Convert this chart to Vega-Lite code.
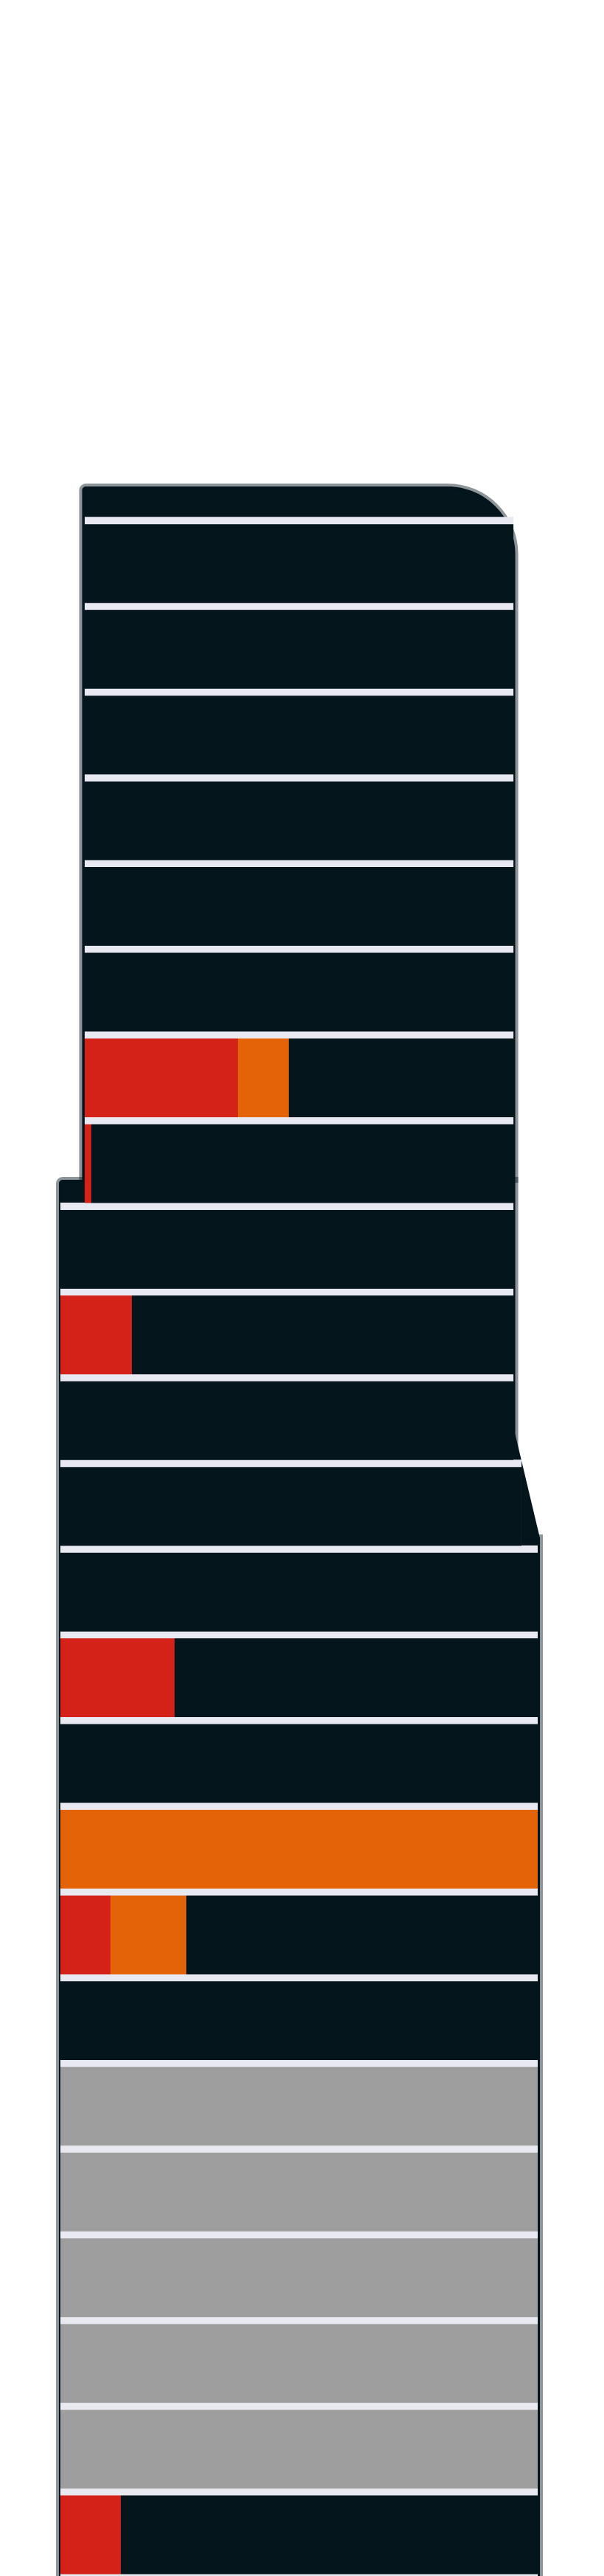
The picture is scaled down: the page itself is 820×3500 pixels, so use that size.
{
  "$schema": "https://vega.github.io/schema/vega-lite/v6.json",
  "width": 648,
  "height": 3500,
  "autosize": {"type": "none"},
  "padding": {"left": 82, "right": 90, "top": 0, "bottom": 0},
  "background": "#ffffff",
  "config": {"view": {"stroke": null}},
  "datasets": {
    "outline": [
      {"piece": "upper", "x0": 4.55, "x1": 95.3, "y0": 0.1, "y1": 8.19},
      {"piece": "lower", "x0": -0.31, "x1": 95.3, "y0": 8.19, "y1": 24.6},
      {"piece": "right", "x0": 95.0, "x1": 100.46, "y0": 12.36, "y1": 24.6}
    ],
    "wedge": [
      {"v": 11.16, "a": 95.0, "b": 95.3},
      {"v": 12.37, "a": 95.0, "b": 100.46}
    ],
    "segments": [
      {"row": 1, "group": "C", "start": 5.09, "end": 94.91},
      {"row": 2, "group": "C", "start": 5.09, "end": 94.91},
      {"row": 3, "group": "C", "start": 5.09, "end": 94.91},
      {"row": 4, "group": "C", "start": 5.09, "end": 94.91},
      {"row": 5, "group": "C", "start": 5.09, "end": 94.91},
      {"row": 6, "group": "C", "start": 5.09, "end": 94.91},
      {"row": 7, "group": "A", "start": 5.09, "end": 37.19},
      {"row": 7, "group": "B", "start": 37.19, "end": 47.84},
      {"row": 7, "group": "C", "start": 47.84, "end": 94.91},
      {"row": 8, "group": "A", "start": 5.09, "end": 6.48},
      {"row": 8, "group": "C", "start": 6.48, "end": 94.91},
      {"row": 9, "group": "C", "start": 0, "end": 94.91},
      {"row": 10, "group": "A", "start": 0, "end": 14.97},
      {"row": 10, "group": "C", "start": 14.97, "end": 94.91},
      {"row": 11, "group": "C", "start": 0, "end": 94.91},
      {"row": 12, "group": "C", "start": 0, "end": 96.6},
      {"row": 13, "group": "C", "start": 0, "end": 100},
      {"row": 14, "group": "A", "start": 0, "end": 23.92},
      {"row": 14, "group": "C", "start": 23.92, "end": 100},
      {"row": 15, "group": "C", "start": 0, "end": 100},
      {"row": 16, "group": "B", "start": 0, "end": 100},
      {"row": 17, "group": "A", "start": 0, "end": 10.49},
      {"row": 17, "group": "B", "start": 10.49, "end": 26.39},
      {"row": 17, "group": "C", "start": 26.39, "end": 100},
      {"row": 18, "group": "C", "start": 0, "end": 100},
      {"row": 19, "group": "N", "start": 0, "end": 100},
      {"row": 20, "group": "N", "start": 0, "end": 100},
      {"row": 21, "group": "N", "start": 0, "end": 100},
      {"row": 22, "group": "N", "start": 0, "end": 100},
      {"row": 23, "group": "N", "start": 0, "end": 100},
      {"row": 24, "group": "A", "start": 0, "end": 12.65},
      {"row": 24, "group": "C", "start": 12.65, "end": 100}
    ]
  },
  "layer": [
    {
      "data": {"name": "outline"},
      "transform": [{"filter": "datum.piece === 'upper'"}],
      "mark": {"type": "rect", "color": "#05151c", "stroke": "#05151c", "strokeWidth": 8, "strokeOpacity": 0.45, "cornerRadiusTopLeft": 5, "cornerRadiusTopRight": 92},
      "encoding": {
        "x": {"field": "x0", "type": "quantitative", "scale": {"domain": [0, 100], "nice": false, "zero": false}, "axis": null},
        "x2": {"field": "x1"},
        "y": {"field": "y0", "type": "quantitative", "scale": {"domain": [-5.5336, 24.4373], "nice": false, "zero": false, "reverse": true}, "axis": null},
        "y2": {"field": "y1"}
      }
    },
    {
      "data": {"name": "outline"},
      "transform": [{"filter": "datum.piece !== 'upper'"}],
      "mark": {"type": "rect", "color": "#05151c", "stroke": "#05151c", "strokeWidth": 8, "strokeOpacity": 0.45, "cornerRadiusTopLeft": 5},
      "encoding": {
        "x": {"field": "x0", "type": "quantitative", "scale": {"domain": [0, 100], "nice": false, "zero": false}, "axis": null},
        "x2": {"field": "x1"},
        "y": {"field": "y0", "type": "quantitative", "scale": {"domain": [-5.5336, 24.4373], "nice": false, "zero": false, "reverse": true}, "axis": null},
        "y2": {"field": "y1"}
      }
    },
    {
      "data": {"name": "wedge"},
      "mark": {"type": "area", "orient": "horizontal", "color": "#05151c"},
      "encoding": {
        "y": {"field": "v", "type": "quantitative", "scale": {"domain": [-5.5336, 24.4373], "nice": false, "zero": false, "reverse": true}, "axis": null},
        "x": {"field": "a", "type": "quantitative", "scale": {"domain": [0, 100], "nice": false, "zero": false}, "axis": null},
        "x2": {"field": "b"}
      }
    },
    {
      "data": {"name": "segments"},
      "transform": [
        {"aggregate": [{"op": "min", "field": "start", "as": "L"}, {"op": "max", "field": "end", "as": "R"}], "groupby": ["row"]}
      ],
      "mark": {"type": "bar", "color": "#e9e9f2", "height": 127},
      "encoding": {
        "y": {"field": "row", "type": "quantitative", "scale": {"domain": [-5.5336, 24.4373], "nice": false, "zero": false, "reverse": true}, "axis": null},
        "x": {"field": "L", "type": "quantitative", "scale": {"domain": [0, 100], "nice": false, "zero": false}, "axis": null},
        "x2": {"field": "R"}
      }
    },
    {
      "data": {"name": "segments"},
      "mark": {"type": "bar", "height": 107},
      "encoding": {
        "y": {"field": "row", "type": "quantitative", "scale": {"domain": [-5.5336, 24.4373], "nice": false, "zero": false, "reverse": true}, "axis": null},
        "x": {"field": "start", "type": "quantitative", "scale": {"domain": [0, 100], "nice": false, "zero": false}, "axis": null},
        "x2": {"field": "end"},
        "color": {"field": "group", "type": "nominal", "scale": {"domain": ["A", "B", "C", "N"], "range": ["#d42218", "#e36306", "#05151c", "#9e9e9e"]}, "legend": null}
      }
    }
  ]
}
